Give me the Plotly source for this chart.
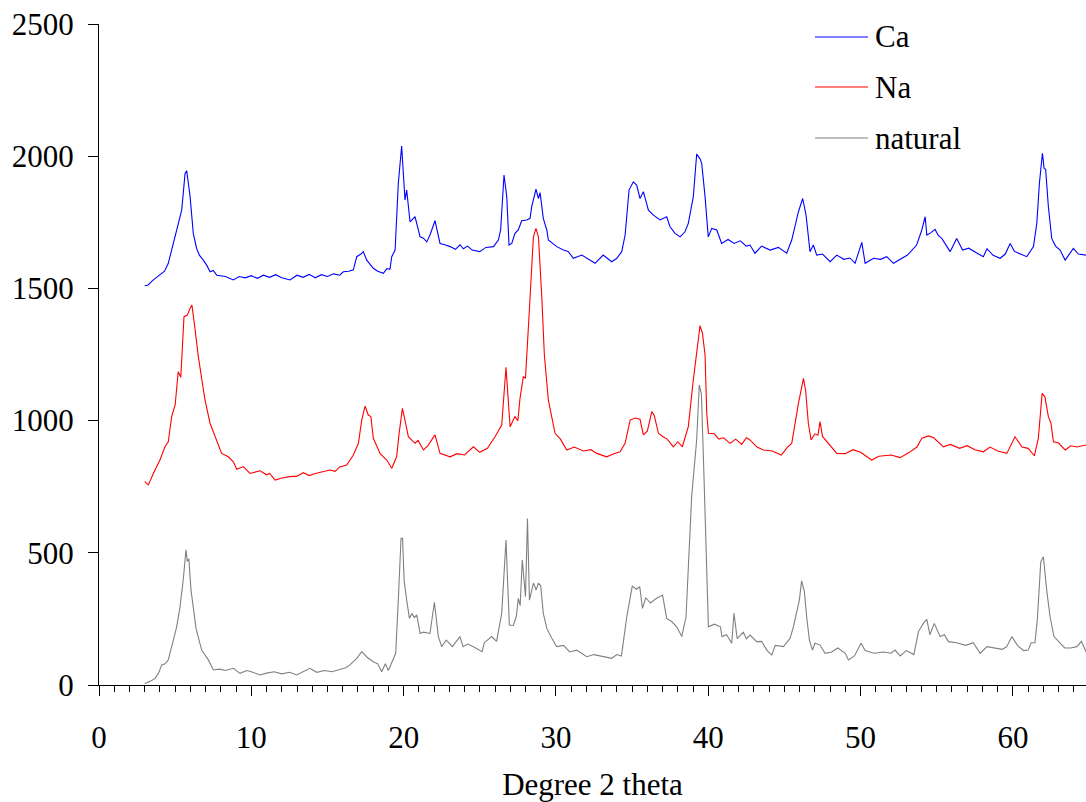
import plotly.graph_objects as go

# Diffraction patterns: (2-theta in degrees, intensity) pairs per sample
ca_points = [
    (3.0, 1510), (3.2, 1512), (3.57, 1532), (4.0, 1550), (4.3, 1565), (4.55, 1595),
    (4.88, 1670), (5.2, 1746), (5.43, 1796), (5.65, 1935), (5.76, 1945), (5.98, 1847),
    (6.19, 1708), (6.41, 1651), (6.6, 1625), (6.85, 1607), (7.07, 1588), (7.29, 1563),
    (7.5, 1568), (7.73, 1550), (8.0, 1548), (8.3, 1545), (8.82, 1532), (9.2, 1545),
    (9.6, 1540), (10.0, 1548), (10.4, 1538), (10.8, 1550), (11.2, 1542), (11.6, 1552),
    (12.0, 1540), (12.54, 1532), (13.0, 1550), (13.4, 1542), (13.8, 1553), (14.2, 1540),
    (14.6, 1552), (15.0, 1545), (15.4, 1555), (15.8, 1550), (16.04, 1563), (16.4, 1565),
    (16.7, 1570), (16.92, 1620), (17.2, 1630), (17.35, 1639), (17.58, 1607), (18.01, 1576),
    (18.3, 1565), (18.67, 1557), (18.9, 1575), (19.1, 1572), (19.22, 1620), (19.44, 1645),
    (19.65, 1897), (19.87, 2038), (20.09, 1834), (20.2, 1872), (20.42, 1752), (20.75, 1771),
    (21.08, 1695), (21.3, 1690), (21.52, 1676), (21.73, 1702), (22.06, 1756), (22.39, 1670),
    (22.7, 1665), (23.05, 1658), (23.4, 1648), (23.7, 1665), (23.92, 1650), (24.2, 1660),
    (24.5, 1645), (25.0, 1639), (25.4, 1655), (25.9, 1658), (26.22, 1683), (26.37, 1721),
    (26.59, 1929), (26.77, 1847), (26.92, 1664), (27.1, 1670), (27.31, 1708), (27.53, 1721),
    (27.75, 1756), (28.08, 1759), (28.3, 1765), (28.41, 1809), (28.69, 1875), (28.85, 1840),
    (28.96, 1862), (29.17, 1765), (29.4, 1721), (29.5, 1683), (30.05, 1658), (30.49, 1645),
    (30.8, 1640), (31.14, 1614), (31.7, 1626), (32.1, 1612), (32.57, 1595), (33.1, 1626),
    (33.66, 1601), (34.0, 1614), (34.32, 1639), (34.54, 1702), (34.8, 1872), (35.08, 1903),
    (35.3, 1891), (35.52, 1840), (35.74, 1866), (36.07, 1796), (36.4, 1777), (36.84, 1759),
    (37.27, 1771), (37.49, 1733), (37.82, 1708), (38.15, 1695), (38.47, 1714), (38.69, 1746),
    (39.02, 1847), (39.24, 2008), (39.46, 1990), (39.57, 1973), (39.79, 1847), (40.0, 1695),
    (40.23, 1727), (40.56, 1721), (40.88, 1670), (41.3, 1685), (41.7, 1670), (42.1, 1680),
    (42.5, 1660), (42.74, 1664), (43.07, 1633), (43.5, 1660), (44.06, 1645), (44.6, 1655),
    (45.15, 1633), (45.48, 1683), (45.7, 1733), (45.92, 1790), (46.2, 1840), (46.42, 1777),
    (46.68, 1639), (46.9, 1664), (47.12, 1626), (47.5, 1630), (48.0, 1601), (48.44, 1626),
    (48.9, 1610), (49.3, 1615), (49.64, 1595), (50.08, 1674), (50.3, 1595), (50.85, 1614),
    (51.3, 1610), (51.72, 1620), (52.16, 1595), (52.6, 1610), (53.08, 1626), (53.68, 1664),
    (54.02, 1721), (54.24, 1771), (54.35, 1702), (54.6, 1710), (54.89, 1723), (55.1, 1700),
    (55.33, 1689), (55.88, 1639), (56.31, 1689), (56.7, 1645), (57.1, 1652), (57.6, 1635),
    (58.06, 1620), (58.3, 1650), (58.7, 1625), (59.16, 1614), (59.5, 1630), (59.82, 1670),
    (60.1, 1640), (60.5, 1630), (60.91, 1620), (61.35, 1658), (61.57, 1746), (61.74, 1897),
    (61.94, 2011), (62.05, 1954), (62.15, 1950), (62.33, 1809), (62.55, 1689), (62.8, 1660),
    (63.1, 1645), (63.43, 1607), (63.97, 1651), (64.3, 1630), (64.8, 1626),
]

na_points = [
    (3.0, 769), (3.24, 757), (3.57, 800), (4.0, 851), (4.33, 901), (4.55, 920),
    (4.77, 1015), (5.0, 1059), (5.2, 1185), (5.37, 1164), (5.58, 1393), (5.8, 1399),
    (5.98, 1425), (6.1, 1437), (6.3, 1349), (6.52, 1242), (6.74, 1160), (6.96, 1078),
    (7.29, 990), (7.62, 939), (7.83, 908), (8.05, 876), (8.49, 863), (8.82, 844),
    (9.04, 816), (9.48, 826), (9.91, 800), (10.3, 805), (10.57, 810), (11.0, 795),
    (11.2, 800), (11.56, 775), (12.0, 783), (12.54, 788), (13.0, 790), (13.42, 803),
    (13.8, 792), (14.2, 800), (14.6, 805), (15.17, 813), (15.5, 808), (15.8, 825),
    (16.26, 832), (16.7, 870), (17.03, 914), (17.25, 1002), (17.47, 1055), (17.68, 1021),
    (17.85, 1015), (18.01, 933), (18.45, 876), (18.89, 851), (19.22, 820), (19.54, 863),
    (19.7, 950), (19.92, 1046), (20.09, 1002), (20.31, 939), (20.75, 914), (20.95, 925),
    (21.3, 889), (21.6, 905), (21.84, 927), (22.06, 946), (22.39, 876), (23.05, 863),
    (23.5, 875), (24.0, 870), (24.58, 901), (25.0, 880), (25.5, 895), (26.0, 939),
    (26.44, 983), (26.72, 1202), (26.99, 977), (27.31, 1015), (27.5, 1000), (27.64, 1084),
    (27.86, 1166), (28.0, 1160), (28.23, 1393), (28.52, 1695), (28.69, 1727), (28.85, 1695),
    (29.07, 1469), (29.24, 1248), (29.5, 1078), (29.94, 952), (30.3, 930), (30.71, 889),
    (31.2, 900), (31.8, 885), (32.3, 890), (32.68, 876), (33.33, 863), (33.8, 875),
    (34.21, 882), (34.54, 914), (34.87, 1002), (35.2, 1010), (35.52, 1005), (35.74, 946),
    (36.0, 960), (36.29, 1034), (36.45, 1020), (36.73, 952), (37.0, 940), (37.3, 930),
    (37.71, 901), (38.0, 920), (38.3, 901), (38.69, 977), (39.02, 1154), (39.46, 1359),
    (39.62, 1330), (39.79, 1248), (39.9, 1028), (40.01, 952), (40.4, 950), (40.7, 930),
    (41.0, 935), (41.43, 914), (41.8, 930), (42.2, 910), (42.5, 935), (42.74, 927),
    (43.2, 900), (43.62, 889), (44.2, 885), (44.8, 870), (45.2, 900), (45.48, 914),
    (45.92, 1065), (46.25, 1160), (46.4, 1110), (46.57, 990), (46.75, 927), (47.0, 950),
    (47.2, 945), (47.34, 996), (47.5, 940), (47.8, 920), (48.44, 876), (49.0, 875),
    (49.5, 890), (50.0, 880), (50.73, 851), (51.2, 865), (52.0, 870), (52.6, 860),
    (53.2, 880), (53.7, 900), (54.02, 933), (54.46, 942), (54.8, 935), (55.44, 901),
    (55.9, 910), (56.5, 895), (57.0, 905), (57.5, 890), (58.06, 882), (58.5, 900),
    (59.0, 885), (59.6, 876), (60.14, 939), (60.6, 900), (61.0, 895), (61.41, 867),
    (61.67, 933), (61.92, 1103), (62.1, 1090), (62.33, 1015), (62.5, 990), (62.66, 920),
    (63.0, 915), (63.43, 889), (63.8, 905), (64.2, 900), (64.8, 908),
]

natural_points = [
    (3.0, 6), (3.4, 15), (3.68, 25), (3.9, 44), (4.12, 76), (4.35, 80), (4.55, 95),
    (4.77, 145), (5.1, 220), (5.32, 296), (5.54, 403), (5.71, 511), (5.8, 467),
    (5.9, 477), (6.04, 359), (6.2, 290), (6.37, 214), (6.74, 132), (7.18, 95),
    (7.51, 57), (7.9, 60), (8.3, 55), (8.82, 63), (9.26, 44), (9.7, 55), (10.1, 48),
    (10.57, 38), (11.0, 45), (11.5, 50), (12.0, 42), (12.5, 48), (12.98, 38),
    (13.4, 50), (13.85, 63), (14.3, 48), (14.8, 55), (15.3, 50), (15.8, 58),
    (16.2, 65), (16.48, 76), (16.92, 101), (17.25, 126), (17.6, 105), (18.01, 88),
    (18.3, 80), (18.56, 50), (18.8, 80), (19.0, 55), (19.22, 88), (19.48, 120),
    (19.65, 321), (19.83, 555), (19.93, 555), (20.03, 397), (20.2, 321), (20.38, 252),
    (20.55, 270), (20.7, 255), (20.86, 265), (21.08, 195), (21.3, 200), (21.73, 195),
    (22.02, 313), (22.28, 183), (22.5, 145), (22.8, 170), (23.2, 145), (23.7, 183),
    (23.9, 145), (24.2, 155), (24.58, 145), (25.15, 126), (25.3, 160), (25.78, 183),
    (26.1, 165), (26.44, 271), (26.72, 548), (26.94, 227), (27.2, 225), (27.4, 260),
    (27.53, 328), (27.65, 300), (27.79, 473), (28.0, 334), (28.13, 630), (28.26, 321),
    (28.52, 385), (28.7, 360), (28.85, 385), (29.0, 375), (29.17, 271), (29.4, 214),
    (29.7, 180), (30.05, 145), (30.5, 150), (30.9, 125), (31.36, 132), (32.02, 107),
    (32.5, 115), (33.0, 110), (33.66, 101), (34.0, 115), (34.3, 110), (34.65, 258),
    (35.01, 374), (35.3, 362), (35.5, 372), (35.68, 290), (35.9, 330), (36.2, 310),
    (36.61, 328), (37.0, 340), (37.27, 252), (37.6, 240), (37.93, 220), (38.26, 183),
    (38.54, 258), (38.91, 712), (39.24, 927), (39.41, 1135), (39.55, 1100), (39.72, 788),
    (39.9, 435), (40.01, 220), (40.4, 230), (40.8, 220), (40.9, 183), (41.2, 190),
    (41.54, 158), (41.69, 271), (41.9, 175), (42.3, 200), (42.5, 175), (42.74, 189),
    (43.18, 164), (43.5, 165), (43.84, 132), (44.17, 113), (44.4, 150), (44.93, 145),
    (45.37, 176), (45.59, 220), (45.81, 277), (45.98, 321), (46.13, 394), (46.31, 353),
    (46.46, 258), (46.64, 170), (46.84, 132), (47.0, 158), (47.34, 151), (47.67, 120),
    (48.1, 125), (48.5, 140), (49.0, 120), (49.2, 95), (49.6, 110), (50.03, 158),
    (50.3, 130), (50.9, 120), (51.5, 125), (52.0, 120), (52.26, 132), (52.6, 110),
    (53.0, 130), (53.5, 115), (53.8, 202), (54.12, 233), (54.35, 248), (54.55, 190),
    (54.84, 233), (55.22, 183), (55.5, 190), (55.77, 164), (56.3, 160), (56.9, 150),
    (57.4, 160), (57.85, 120), (58.3, 145), (58.8, 140), (59.3, 135), (59.6, 145),
    (59.93, 183), (60.3, 150), (60.7, 130), (61.0, 132), (61.2, 160), (61.45, 160),
    (61.61, 252), (61.83, 466), (62.0, 485), (62.22, 359), (62.44, 258), (62.7, 183),
    (63.1, 160), (63.4, 140), (63.8, 140), (64.2, 145), (64.5, 165), (64.8, 126),
]

series_names = ["Ca", "Na", "natural"]
series_colors = ["#0000ff", "#ff0000", "#808080"]
series_points = [ca_points, na_points, natural_points]

FONT = "Liberation Serif, Times New Roman, serif"
FONT_SIZE = 31
W, H = 1086, 802
M_L, M_R, M_T, M_B = 99, 0, 24, 117

fig = go.Figure()
for name, color, pts in zip(series_names, series_colors, series_points):
    fig.add_trace(go.Scatter(
        x=[p[0] for p in pts], y=[p[1] for p in pts],
        mode="lines", name=name, showlegend=False,
        line=dict(color=color, width=1.1),
    ))

# Hand-placed legend (long sample lines), positioned in plot-area pixels
plot_w, plot_h = W - M_L - M_R, H - M_T - M_B


def px_x(px):
    return (px - M_L) / plot_w


def px_y(py):
    return (H - M_B - py) / plot_h


legend_rows = [37, 87, 138]
for name, color, row in zip(series_names, series_colors, legend_rows):
    fig.add_shape(type="line", xref="paper", yref="paper",
                  x0=px_x(815), x1=px_x(868), y0=px_y(row), y1=px_y(row),
                  line=dict(color=color, width=1.1))
    fig.add_annotation(xref="paper", yref="paper", x=px_x(873), y=px_y(row),
                       text=name, showarrow=False, xanchor="left", yanchor="middle",
                       font=dict(family=FONT, size=FONT_SIZE, color="black"))

fig.update_layout(
    width=W, height=H,
    margin=dict(l=M_L, r=M_R, t=M_T, b=M_B, pad=0),
    paper_bgcolor="white", plot_bgcolor="white",
    font=dict(family=FONT, size=FONT_SIZE, color="black"),
    xaxis=dict(
        range=[0, 64.8], tick0=0, dtick=10,
        showgrid=False, zeroline=False,
        showline=True, linecolor="black", linewidth=1,
        ticks="outside", ticklen=10, tickwidth=1, tickcolor="black",
        minor=dict(dtick=1, ticks="outside", ticklen=6, tickwidth=1,
                   tickcolor="black", showgrid=False),
        ticklabelstandoff=15,
        title=dict(text="Degree 2 theta", standoff=26,
                   font=dict(family=FONT, size=FONT_SIZE)),
    ),
    yaxis=dict(
        range=[0, 2500], tick0=0, dtick=500,
        showgrid=False, zeroline=False,
        showline=True, linecolor="black", linewidth=1,
        ticks="outside", ticklen=10, tickwidth=1, tickcolor="black",
        ticklabelstandoff=8,
    ),
)

fig.write_html("out.html")
